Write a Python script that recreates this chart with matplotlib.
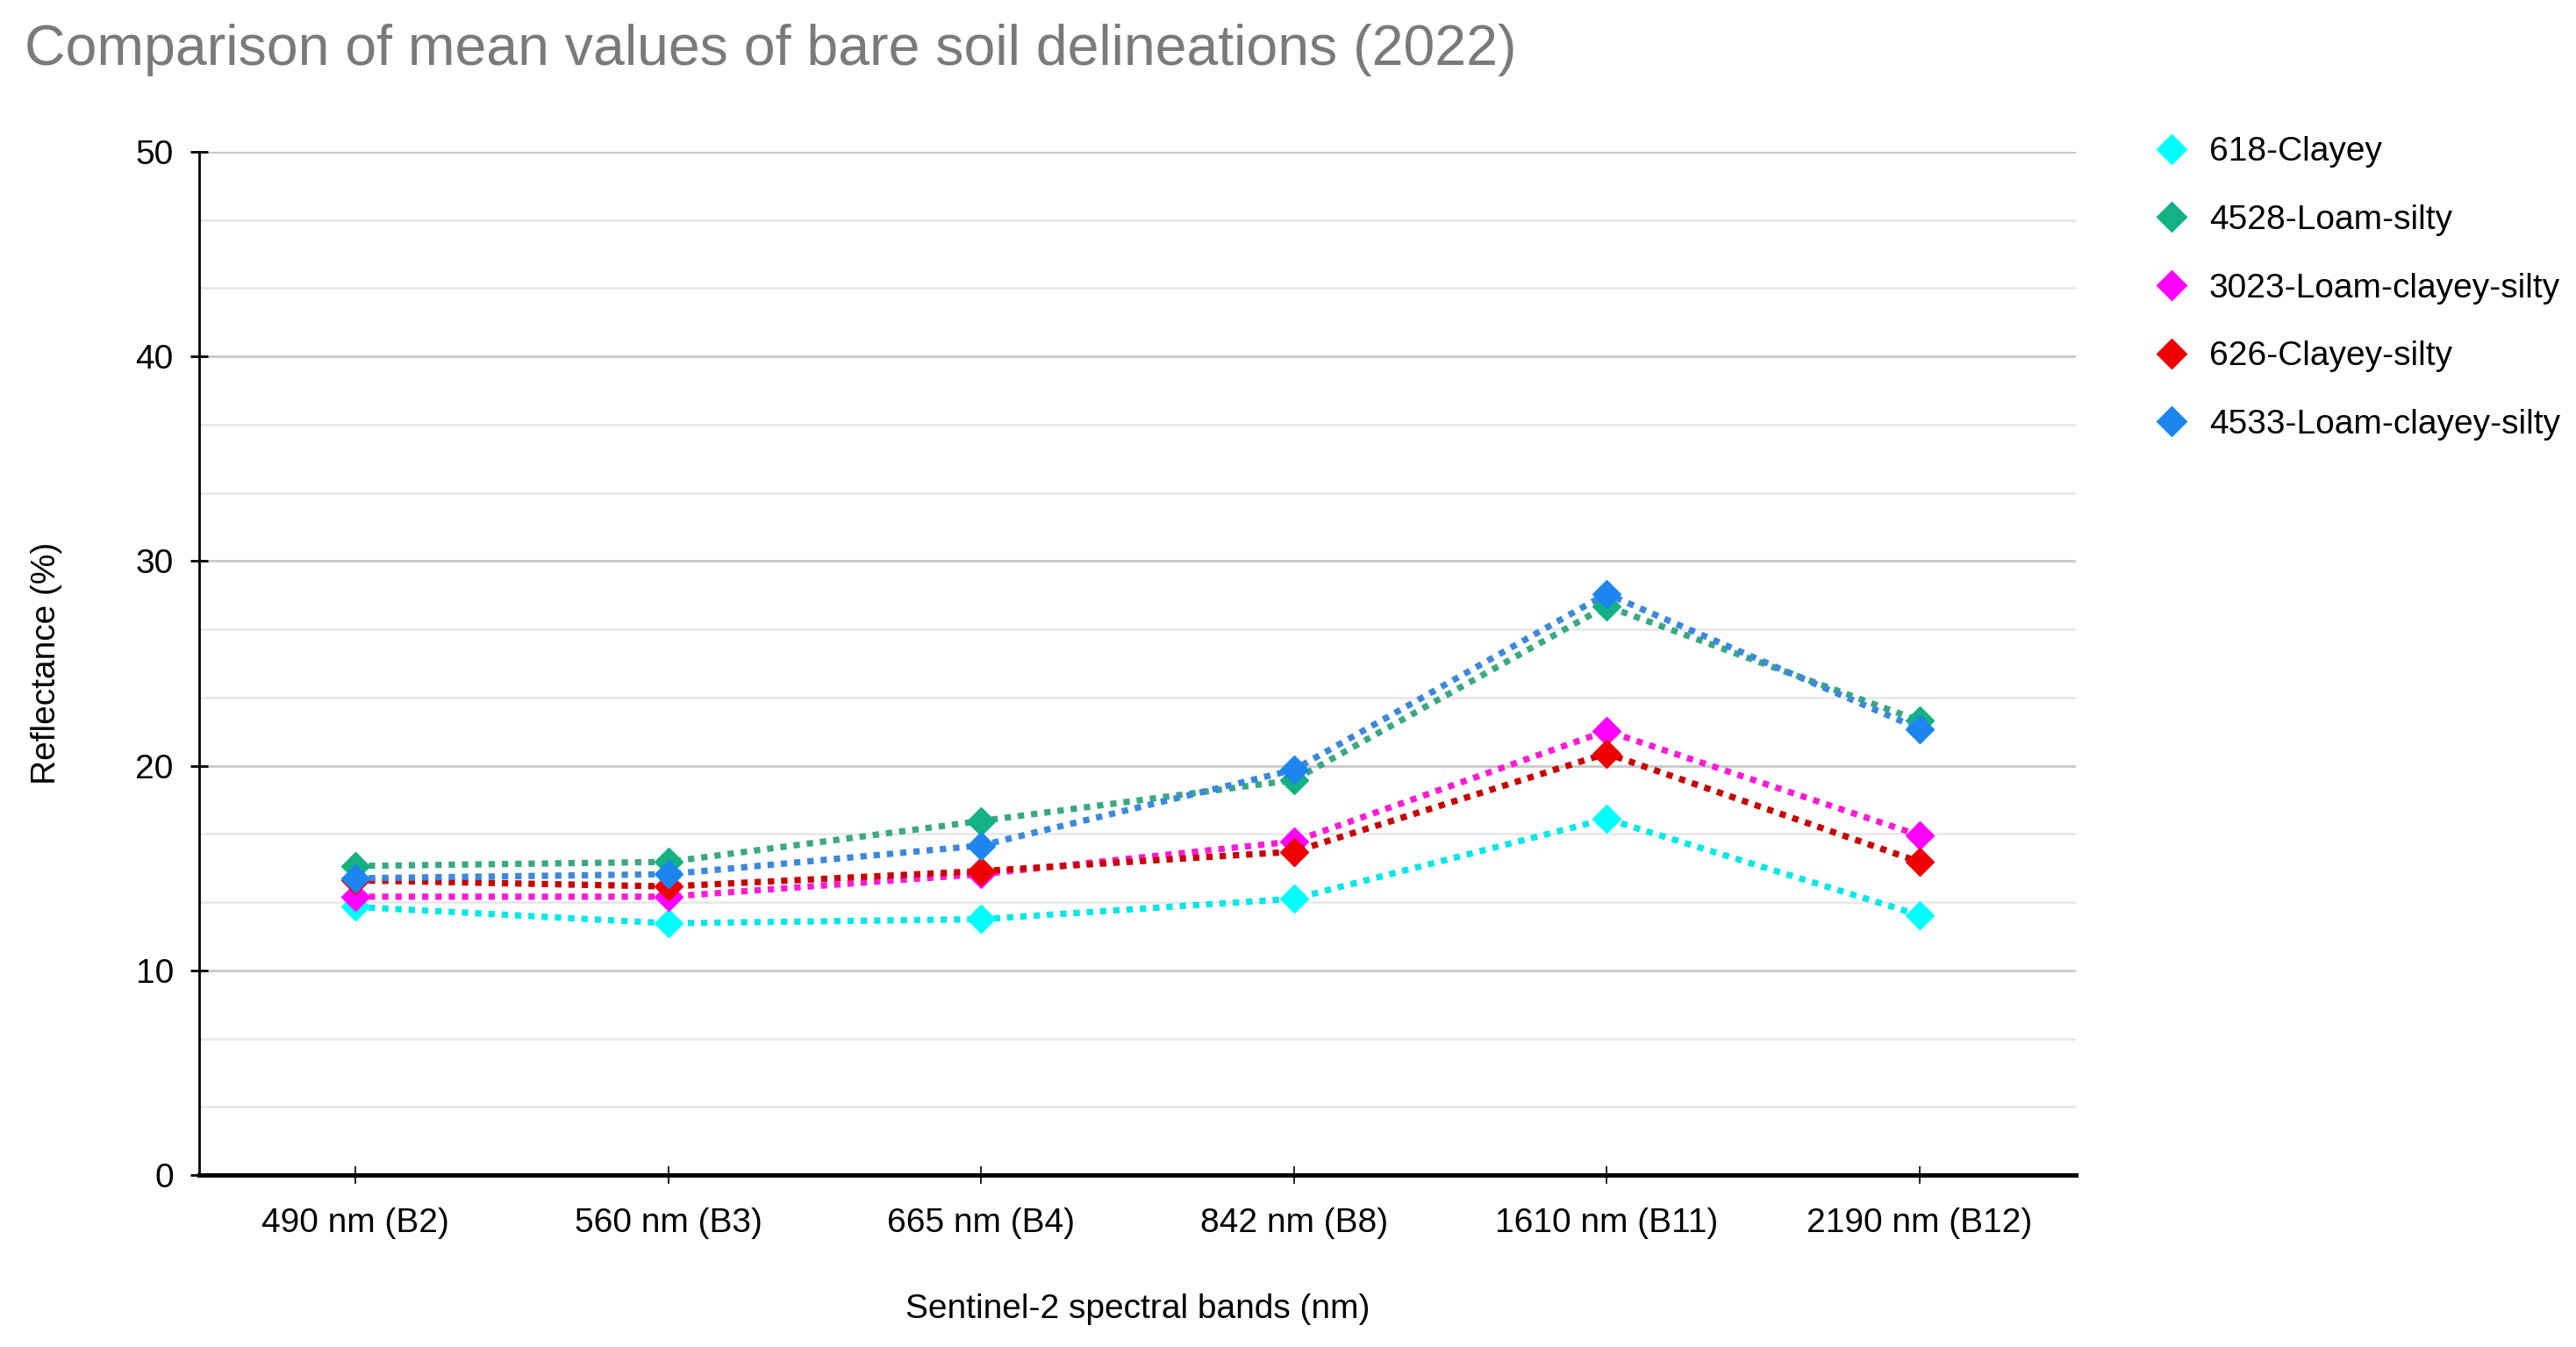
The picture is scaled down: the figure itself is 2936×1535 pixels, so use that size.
import matplotlib
matplotlib.use("Agg")
import matplotlib.pyplot as plt
from matplotlib.ticker import MultipleLocator
from matplotlib.lines import Line2D

plt.rcParams['font.family'] = ['Liberation Sans', 'DejaVu Sans']

bands = ["490 nm (B2)", "560 nm (B3)", "665 nm (B4)", "842 nm (B8)", "1610 nm (B11)", "2190 nm (B12)"]

clayey_618 = [13.1, 12.3, 12.5, 13.5, 17.4, 12.7]
loam_silty_4528 = [15.1, 15.3, 17.3, 19.3, 27.8, 22.2]
loam_clayey_silty_3023 = [13.6, 13.6, 14.7, 16.3, 21.7, 16.6]
clayey_silty_626 = [14.4, 14.1, 14.85, 15.8, 20.6, 15.3]
loam_clayey_silty_4533 = [14.5, 14.7, 16.1, 19.8, 28.4, 21.8]

series_names = ["618-Clayey", "4528-Loam-silty", "3023-Loam-clayey-silty",
                "626-Clayey-silty", "4533-Loam-clayey-silty"]
series_values = [clayey_618, loam_silty_4528, loam_clayey_silty_3023,
                 clayey_silty_626, loam_clayey_silty_4533]
marker_colors = ["#00ffff", "#13b184", "#ff00ff", "#ee0000", "#1c86ee"]
line_colors = ["#00e8e8", "#3aa883", "#ff1ad6", "#c80000", "#3c88dc"]

fig = plt.figure(figsize=(14.68, 7.675), dpi=200)
ax = fig.add_axes([0.0773, 0.1277, 0.7285, 0.7596])

x = list(range(len(bands)))
for name, vals, mc, lc in zip(series_names, series_values, marker_colors, line_colors):
    ax.plot(x, vals, linestyle=(0, (1, 1.1)), dash_capstyle='butt', color=lc, lw=2.6,
            marker='D', markersize=8, markerfacecolor=mc, markeredgecolor=mc,
            markeredgewidth=0.5, label=name)

ax.set_xlim(-0.5, len(bands) - 0.5)
ax.set_ylim(0, 50)
ax.set_xticks(x)
ax.set_xticklabels(bands, fontsize=14)
ax.yaxis.set_major_locator(MultipleLocator(10))
ax.yaxis.set_minor_locator(MultipleLocator(10 / 3))
ax.tick_params(axis='y', which='major', direction='inout', length=7, width=1.0, labelsize=14, pad=7)
ax.tick_params(axis='y', which='minor', length=0)
ax.tick_params(axis='x', which='major', direction='inout', length=7, width=0.6, labelsize=14, pad=10)

ax.grid(which='major', axis='y', color='#c8c8c8', lw=1.0)
ax.grid(which='minor', axis='y', color='#e6e6e6', lw=0.9)
ax.set_axisbelow(True)

for s in ['top', 'right']:
    ax.spines[s].set_visible(False)
ax.spines['left'].set_linewidth(1.0)
ax.spines['bottom'].set_linewidth(1.8)

ax.set_ylabel("Reflectance (%)", fontsize=14, labelpad=30)
ax.set_xlabel("Sentinel-2 spectral bands (nm)", fontsize=14, labelpad=22)

fig.text(0.0095, 0.963, "Comparison of mean values of bare soil delineations (2022)",
         fontsize=23.2, color='#7a7a7a', ha='left', va='center')

leg_handles = [Line2D([], [], linestyle='none', marker='D', markersize=8,
                      markerfacecolor=mc, markeredgecolor=mc) for mc in marker_colors]
leg = fig.legend(leg_handles, series_names, loc='upper left',
                 bbox_to_anchor=(0.8238, 0.9215), frameon=False, fontsize=14,
                 labelspacing=1.07, handletextpad=0.55, handlelength=1.1)

fig.savefig("out.png", dpi=200, facecolor='white')
